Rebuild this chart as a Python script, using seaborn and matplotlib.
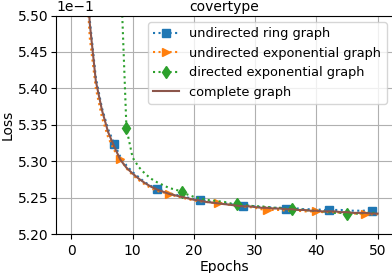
import matplotlib
matplotlib.use("Agg")
import matplotlib.pyplot as plt
import numpy as np
import seaborn as sns

EPOCHS = list(range(51))

# loss values (axis shows them as x1e-1)
RING = [6.32, 5.96, 5.66, 5.495, 5.415, 5.373, 5.344, 5.324, 5.306, 5.294,
        5.285, 5.278, 5.271, 5.266, 5.262, 5.259, 5.256, 5.254, 5.252, 5.250,
        5.248, 5.247, 5.245, 5.244, 5.243, 5.242, 5.241, 5.240, 5.239, 5.239,
        5.238, 5.237, 5.237, 5.236, 5.236, 5.235, 5.235, 5.235, 5.234, 5.234,
        5.234, 5.233, 5.233, 5.233, 5.233, 5.232, 5.232, 5.232, 5.232, 5.232,
        5.231]
EXPO = [6.25, 5.90, 5.62, 5.47, 5.40, 5.36, 5.333, 5.315, 5.303, 5.290,
        5.281, 5.274, 5.268, 5.263, 5.259, 5.257, 5.255, 5.252, 5.250, 5.248,
        5.246, 5.245, 5.244, 5.243, 5.242, 5.241, 5.240, 5.239, 5.238, 5.237,
        5.236, 5.234, 5.233, 5.233, 5.233, 5.232, 5.232, 5.232, 5.231, 5.231,
        5.231, 5.230, 5.230, 5.230, 5.229, 5.229, 5.228, 5.228, 5.227, 5.227,
        5.227]
DIRECTED = [7.40, 7.10, 6.80, 6.50, 6.25, 6.05, 5.85, 5.70, 5.57, 5.345,
            5.305, 5.292, 5.283, 5.276, 5.271, 5.267, 5.263, 5.261, 5.258, 5.254,
            5.251, 5.249, 5.247, 5.246, 5.245, 5.244, 5.242, 5.241, 5.240, 5.239,
            5.238, 5.238, 5.237, 5.236, 5.236, 5.235, 5.235, 5.234, 5.233, 5.232,
            5.232, 5.231, 5.230, 5.229, 5.229, 5.228, 5.228, 5.228, 5.229, 5.229,
            5.229]
COMPLETE = [6.30, 5.95, 5.65, 5.49, 5.41, 5.37, 5.340, 5.320, 5.302, 5.291,
            5.283, 5.276, 5.270, 5.265, 5.261, 5.258, 5.255, 5.253, 5.251, 5.249,
            5.247, 5.246, 5.244, 5.243, 5.242, 5.241, 5.240, 5.239, 5.238, 5.238,
            5.237, 5.236, 5.236, 5.235, 5.235, 5.234, 5.234, 5.233, 5.233, 5.232,
            5.232, 5.231, 5.231, 5.231, 5.230, 5.230, 5.229, 5.229, 5.229, 5.228,
            5.228]

SERIES = [
    ("undirected ring graph", RING, "#1f77b4", ":", "s", (7, 7)),
    ("undirected exponential graph", EXPO, "#ff7f0e", ":", ">", (8, 8)),
    ("directed exponential graph", DIRECTED, "#2ca02c", ":", "d", (9, 9)),
    ("complete graph", COMPLETE, "#8c564b", "-", None, None),
]

fig = plt.figure(figsize=(3.92, 2.73), dpi=100)
ax = fig.add_axes([56 / 392, 39 / 273, 337 / 392, 218.5 / 273])

for label, vals, color, ls, marker, every in SERIES:
    y = np.array(vals) / 10.0
    kw = dict(color=color, linestyle=ls, linewidth=1.5, label=label)
    if marker:
        kw.update(marker=marker, markevery=every, markersize=6,
                  markeredgecolor=color, markeredgewidth=1)
    sns.lineplot(x=EPOCHS, y=y, ax=ax, **kw)

ax.set_xlim(-2.5, 52.5)
ax.set_ylim(0.520, 0.550)
ax.set_xticks([0, 10, 20, 30, 40, 50])
ax.set_yticks(np.arange(0.520, 0.5501, 0.005))
ax.ticklabel_format(axis="y", style="sci", scilimits=(0, 0))
ax.grid(True, color="#b0b0b0", linewidth=0.8)
ax.set_axisbelow(True)
ax.tick_params(labelsize=10)
ax.tick_params(axis="y", pad=2)
ax.set_xlabel("Epochs", fontsize=10, labelpad=1.5)
ax.set_ylabel("Loss", fontsize=10, labelpad=2)
ax.set_title("covertype", fontsize=10, pad=3.5)
ax.legend(loc="upper right", fontsize=9.3)

fig.savefig("out.png", dpi=100)
